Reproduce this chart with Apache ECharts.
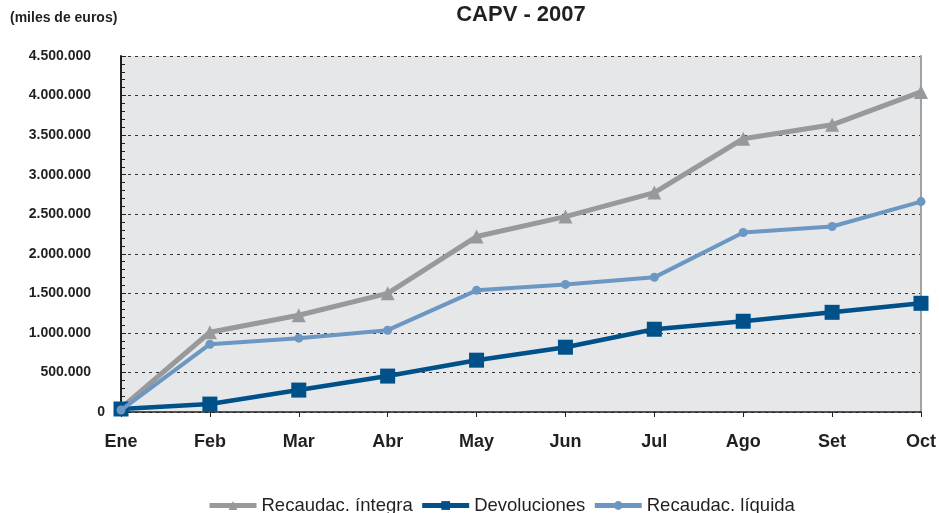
<!DOCTYPE html>
<html><head><meta charset="utf-8">
<script src="https://cdn.jsdelivr.net/npm/echarts@6/dist/echarts.min.js"></script>
<style>html,body{margin:0;padding:0;background:#fff}#c{width:939px;height:513px}</style>
</head><body><div id="c"></div>
<script>
const categories = ['Ene','Feb','Mar','Abr','May','Jun','Jul','Ago','Set','Oct'];
const integra = [50000,1008000,1223000,1500000,2218000,2470000,2773000,3454000,3630000,4046000];
const devoluciones = [38000,100000,277000,454000,655000,819000,1046000,1147000,1260000,1374000];
const liquida = [25000,857000,933000,1034000,1538000,1613000,1702000,2269000,2345000,2660000];
const seriesNames = ['Recaudac. íntegra','Devoluciones','Recaudac. líquida'];

function fmt(v){return String(v).replace(/\B(?=(\d{3})+(?!\d))/g,'.');}
const font = 'Liberation Sans, Arial, sans-serif';
const ink = '#231f20';
const colors = ['#98999b','#00508a','#6b97c2'];
const chart = echarts.init(document.getElementById('c'));
chart.setOption({
  animation:false,
  textStyle:{fontFamily:font},
  title:[
    {text:'CAPV - 2007',left:516,top:-1,textAlign:'center',textStyle:{fontFamily:font,fontSize:22,fontWeight:'bold',color:ink}},
    {text:'(miles de euros)',left:10,top:11,padding:0,textStyle:{fontFamily:font,fontSize:14,fontWeight:'bold',color:ink}}
  ],
  grid:{left:121,right:18,top:56,bottom:101,backgroundColor:'#e6e7e9',show:true,borderWidth:0},
  legend:{top:491,left:202,itemWidth:47,itemHeight:11,itemGap:7,
    textStyle:{fontFamily:font,fontSize:18.5,color:ink},
    data:[
      {name:seriesNames[0],lineStyle:{width:5}},
      {name:seriesNames[1],lineStyle:{width:5}},
      {name:seriesNames[2],lineStyle:{width:5}}
    ]},
  xAxis:{type:'category',data:categories,boundaryGap:false,
    axisLine:{lineStyle:{color:ink,width:1.5}},
    axisTick:{show:true,length:5,alignWithLabel:true,lineStyle:{color:ink}},
    axisLabel:{fontFamily:font,fontSize:18,fontWeight:'bold',color:ink,margin:21}},
  yAxis:[{type:'value',min:0,max:4500000,interval:500000,
    axisLine:{show:true,lineStyle:{color:ink,width:2}},
    axisTick:{show:true,inside:true,length:5,lineStyle:{color:ink}},
    minorTick:{show:true,splitNumber:5,length:4,lineStyle:{color:ink}},
    splitLine:{show:true,lineStyle:{color:'#333',type:[3,4],width:1}},
    axisLabel:{fontFamily:font,fontSize:14,fontWeight:'bold',color:ink,margin:16,
      formatter:function(v){return v===0?'{z|0}':'{p|'+fmt(v)+'}';},
      rich:{p:{fontFamily:font,fontSize:14,fontWeight:'bold',color:ink,padding:[0,14,0,0]},
            z:{fontFamily:font,fontSize:14,fontWeight:'bold',color:ink}}}},
   {type:'value',min:0,max:4500000,interval:500000,position:'right',
    axisLine:{show:true,lineStyle:{color:'#a0a1a3',width:2}},
    axisTick:{show:false},axisLabel:{show:false},splitLine:{show:false}}],
  series:[
    {name:seriesNames[0],type:'line',data:integra,symbol:'triangle',symbolSize:14,
      lineStyle:{color:colors[0],width:5},itemStyle:{color:colors[0]},z:2},
    {name:seriesNames[1],type:'line',data:devoluciones,symbol:'rect',symbolSize:15,
      lineStyle:{color:colors[1],width:4.5},itemStyle:{color:colors[1]},z:3},
    {name:seriesNames[2],type:'line',data:liquida,symbol:'circle',symbolSize:9,
      lineStyle:{color:colors[2],width:4},itemStyle:{color:colors[2]},z:4}
  ]
});
</script></body></html>
